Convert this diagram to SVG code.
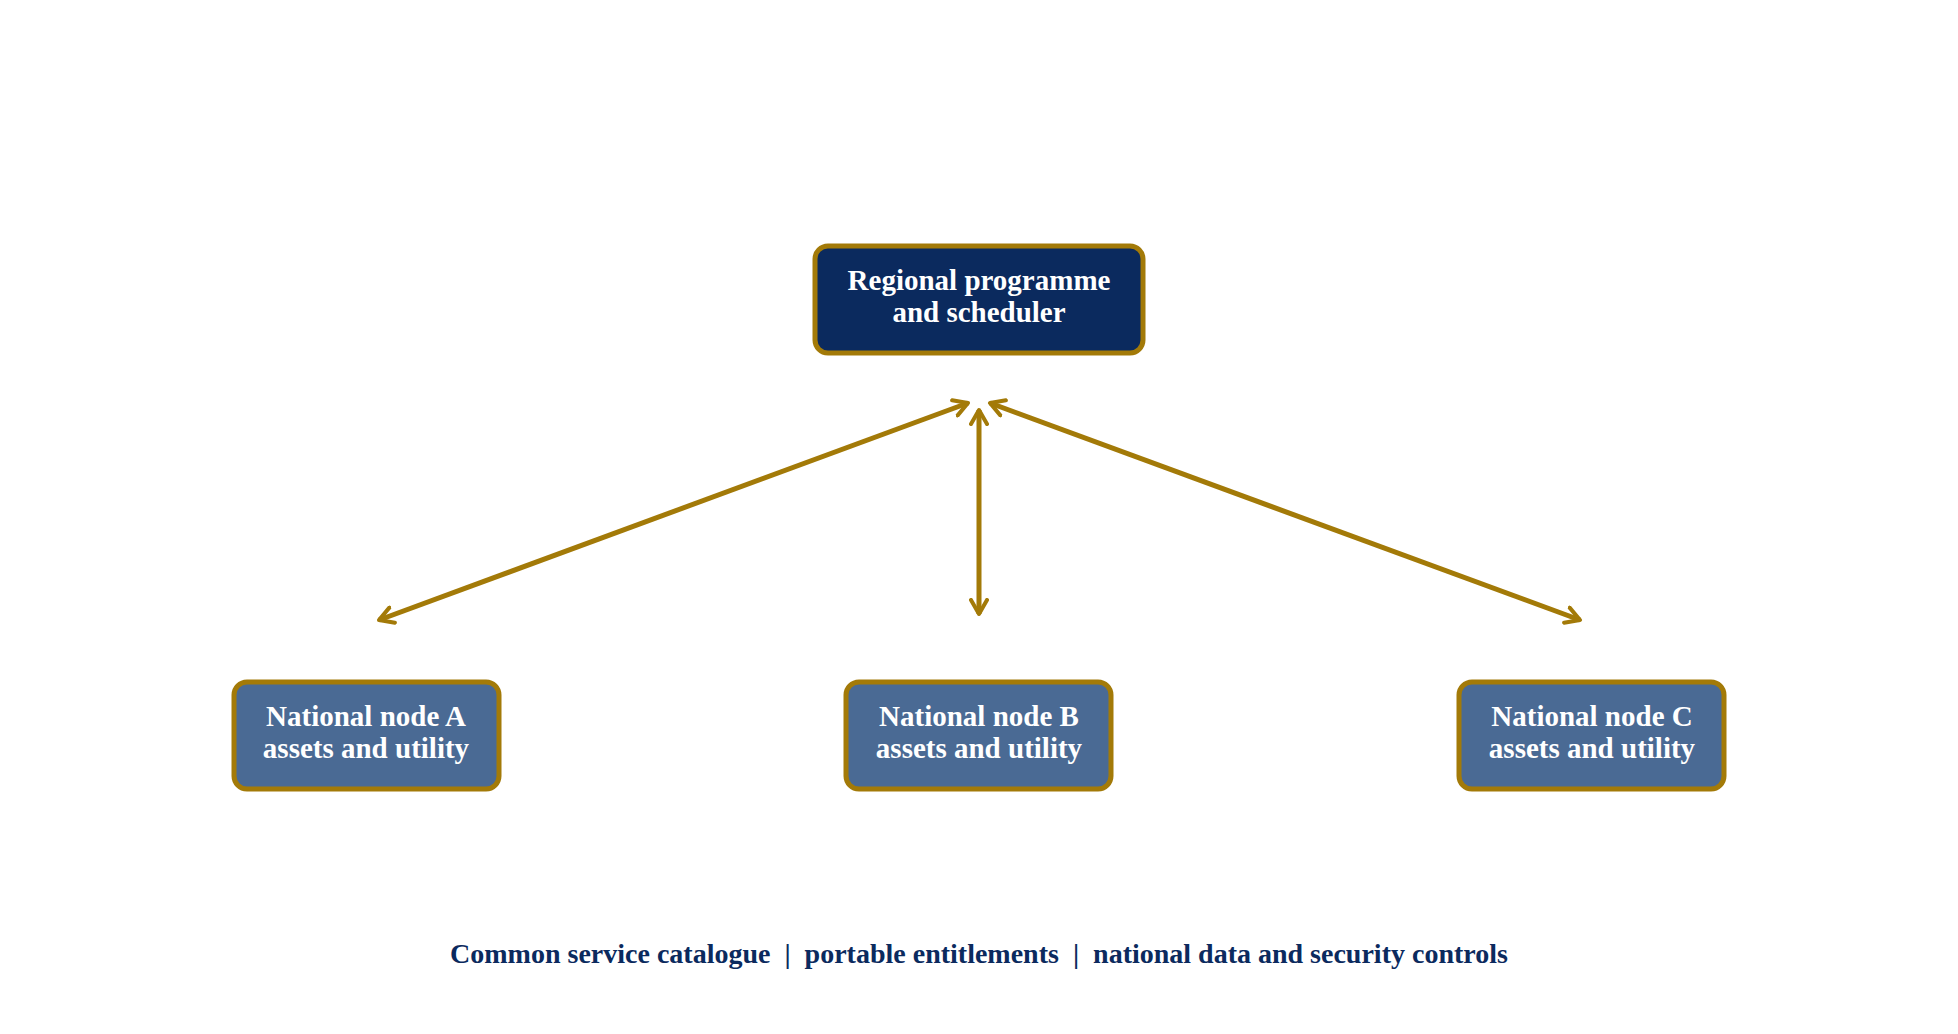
<svg xmlns="http://www.w3.org/2000/svg" width="1958" height="1034" viewBox="0 0 1958 1034">
<style>
.box{stroke:#A37A08;stroke-width:5}
.top{fill:#0B2A5E}
.nat{fill:#4A6A94}
.t{font-family:"Liberation Serif",serif;font-weight:bold;font-size:29px;fill:#fff;text-anchor:middle}
.c{stroke:#A37A08;stroke-width:5;fill:none;marker-start:url(#a);marker-end:url(#a)}
</style>
<defs>
<marker id="a" viewBox="0 0 10 10" refX="8" refY="5" markerWidth="4" markerHeight="4" orient="auto-start-reverse" markerUnits="strokeWidth">
<path d="M1,1 L8,5 L1,9" fill="none" stroke="#A37A08" stroke-width="2" stroke-linecap="round" stroke-linejoin="round"/>
</marker>
</defs>
<rect width="1958" height="1034" fill="#fff"/>
<g id="connectors">
<path class="c" d="M968,403 L379,620"/>
<path class="c" d="M979,410 L979,614"/>
<path class="c" d="M990,403 L1580,620"/>
</g>
<g id="regional">
<rect class="box top" x="815" y="246" width="328" height="107" rx="13"/>
<text class="t" x="979" y="290">Regional programme</text>
<text class="t" x="979" y="322">and scheduler</text>
</g>
<g id="nodeA">
<rect class="box nat" x="234" y="682" width="265" height="107" rx="13"/>
<text class="t" x="366" y="726">National node A</text>
<text class="t" x="366" y="758">assets and utility</text>
</g>
<g id="nodeB">
<rect class="box nat" x="846" y="682" width="265" height="107" rx="13"/>
<text class="t" x="979" y="726">National node B</text>
<text class="t" x="979" y="758">assets and utility</text>
</g>
<g id="nodeC">
<rect class="box nat" x="1459" y="682" width="265" height="107" rx="13"/>
<text class="t" x="1592" y="726">National node C</text>
<text class="t" x="1592" y="758">assets and utility</text>
</g>
<text x="979" y="963" font-family="Liberation Serif,serif" font-weight="bold" font-size="28" fill="#0B2A5E" text-anchor="middle" xml:space="preserve">Common service catalogue  |  portable entitlements  |  national data and security controls</text>
</svg>
